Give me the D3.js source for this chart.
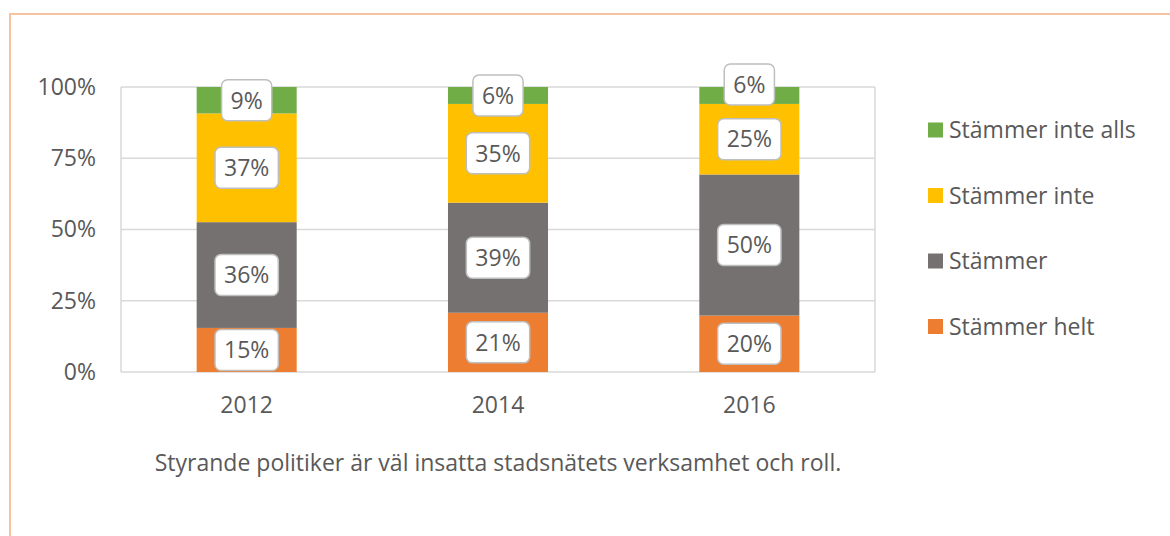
<!DOCTYPE html>
<html>
<head>
<meta charset="utf-8">
<script src="https://cdn.jsdelivr.net/npm/d3@7"></script>
<style>
  body { margin: 0; background: #fff; }
  svg text { font-family: "Open Sans", Lato, sans-serif; fill: #595959; }
</style>
</head>
<body>
<div id="chart"></div>
<script>
// data
var years = ["2012", "2014", "2016"];
var seriesNames = ["Stämmer helt", "Stämmer", "Stämmer inte", "Stämmer inte alls"];
var stammerHelt = [15, 21, 20];
var stammer = [36, 39, 50];
var stammerInte = [37, 35, 25];
var stammerInteAlls = [9, 6, 6];
var yTicks = [0, 0.25, 0.5, 0.75, 1];
var caption = "Styrande politiker är väl insatta stadsnätets verksamhet och roll.";

var colors = ["#ED7D31", "#767171", "#FFC000", "#70AD47"];

var w = 1170;
var h = 536;
var fontSize = 23;

// table for d3.stack, one row per year
var table = years.map((y, i) => ({
  year: y,
  "Stämmer helt": stammerHelt[i],
  "Stämmer": stammer[i],
  "Stämmer inte": stammerInte[i],
  "Stämmer inte alls": stammerInteAlls[i]
}));

var stack = d3.stack()
  .keys(seriesNames)
  .offset(d3.stackOffsetExpand);
var layers = stack(table);

var svg = d3.select("#chart")
  .append("svg")
  .attr("width", w)
  .attr("height", h);

// chart frame
svg.append("rect")
  .attr("x", 10)
  .attr("y", 14)
  .attr("width", 1200)
  .attr("height", 600)
  .attr("fill", "none")
  .attr("stroke", "#F4B183")
  .attr("stroke-width", 1.5);

var plot = { left: 121, right: 875, top: 87, bottom: 372 };

var xScale = d3.scaleBand()
  .domain(years)
  .range([plot.left, plot.right])
  .paddingInner(0.602)
  .paddingOuter(0.301);

var yScale = d3.scaleLinear()
  .domain([0, 1])
  .range([plot.bottom, plot.top]);

// gridlines
svg.append("g")
  .selectAll("line")
  .data(yTicks)
  .enter()
  .append("line")
  .attr("x1", plot.left)
  .attr("x2", plot.right)
  .attr("y1", (d) => yScale(d))
  .attr("y2", (d) => yScale(d))
  .attr("stroke", "#D9D9D9")
  .attr("stroke-width", 1.5);

// plot area sides
[plot.left, plot.right].forEach((x) => {
  svg.append("line")
    .attr("x1", x).attr("x2", x)
    .attr("y1", plot.top).attr("y2", plot.bottom)
    .attr("stroke", "#D9D9D9")
    .attr("stroke-width", 1.5);
});

// y axis labels
var yAxis = d3.axisLeft(yScale)
  .tickValues(yTicks)
  .tickFormat(d3.format(".0%"))
  .tickSize(0)
  .tickPadding(25);

var yg = svg.append("g")
  .attr("transform", "translate(" + plot.left + ",0)")
  .call(yAxis);
yg.select(".domain").remove();
yg.selectAll("text")
  .attr("font-size", fontSize)
  .attr("font-family", null)
  .attr("fill", null);

// x axis labels
var xAxis = d3.axisBottom(xScale).tickSize(0).tickPadding(25);
var xg = svg.append("g")
  .attr("transform", "translate(0," + plot.bottom + ")")
  .call(xAxis);
xg.select(".domain").remove();
xg.selectAll("text")
  .attr("font-size", fontSize)
  .attr("font-family", null)
  .attr("fill", null);

// bars
var groups = svg.selectAll(".layer")
  .data(layers)
  .enter()
  .append("g")
  .attr("class", "layer")
  .attr("fill", (d, i) => colors[i]);

groups.selectAll("rect")
  .data((d) => d)
  .enter()
  .append("rect")
  .attr("x", (d) => xScale(d.data.year))
  .attr("width", xScale.bandwidth())
  .attr("y", (d) => yScale(d[1]))
  .attr("height", (d) => yScale(d[0]) - yScale(d[1]));

// data labels (the 2016 top label is nudged up in the original)
var labels = [];
layers.forEach((layer) => {
  layer.forEach((d) => {
    var nudge = (layer.key === "Stämmer inte alls" && d.data.year === "2016") ? -11 : 0;
    labels.push({
      text: d.data[layer.key] + "%",
      x: xScale(d.data.year) + xScale.bandwidth() / 2,
      y: yScale((d[0] + d[1]) / 2) + nudge
    });
  });
});

var lab = svg.selectAll(".dlabel")
  .data(labels)
  .enter()
  .append("g")
  .attr("class", "dlabel")
  .attr("transform", (d) => "translate(" + d.x + "," + d.y + ")");

lab.append("rect")
  .attr("fill", "#fff")
  .attr("stroke", "#BFBFBF")
  .attr("stroke-width", 1.5)
  .attr("rx", 6)
  .attr("ry", 6);

lab.append("text")
  .attr("text-anchor", "middle")
  .attr("dy", "0.36em")
  .attr("font-size", fontSize)
  .text((d) => d.text);

lab.each(function() {
  var g = d3.select(this);
  var tw = g.select("text").node().getComputedTextLength();
  g.select("rect")
    .attr("x", -tw / 2 - 9)
    .attr("y", -20.5)
    .attr("width", tw + 18)
    .attr("height", 41);
});

// legend
var legendNames = seriesNames.slice().reverse();
var legendColors = colors.slice().reverse();
var legend = svg.selectAll(".legend")
  .data(legendNames)
  .enter()
  .append("g")
  .attr("class", "legend")
  .attr("transform", (d, i) => "translate(928," + (130 + i * 65.5) + ")");

legend.append("rect")
  .attr("x", 0)
  .attr("y", -7.5)
  .attr("width", 15)
  .attr("height", 15)
  .attr("fill", (d, i) => legendColors[i]);

legend.append("text")
  .attr("x", 21)
  .attr("dy", "0.36em")
  .attr("font-size", fontSize)
  .text((d) => d);

// caption
svg.append("text")
  .attr("x", 498)
  .attr("y", 463)
  .attr("dy", "0.36em")
  .attr("text-anchor", "middle")
  .attr("font-size", fontSize)
  .text(caption);
</script>
</body>
</html>
